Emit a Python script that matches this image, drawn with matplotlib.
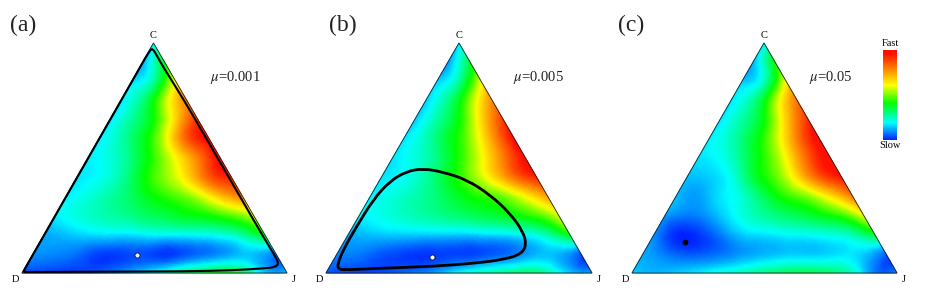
import numpy as np
import matplotlib
matplotlib.use('Agg')
import matplotlib.pyplot as plt
import matplotlib.tri as mtri
from matplotlib.path import Path
from matplotlib.patches import PathPatch, Polygon
from matplotlib.colors import LinearSegmentedColormap, Normalize
from matplotlib.cm import ScalarMappable

plt.rcParams['font.family'] = ['Liberation Serif', 'DejaVu Serif']
plt.rcParams['mathtext.fontset'] = 'stix'

# speed (0 slow, 1 fast), rows go from the D-J edge up to C,
# each row left to right
speed_a = [
    [.03, .03, .02, .04, .08, .13, .20, .30, .36, .40, .35, .15, .15],
    [.10, .09, .07, .03, .03, .04, .02, .05, .08, .12, .14, .08],
    [.12, .14, .16, .17, .17, .19, .19, .20, .22, .28, .40],
    [.18, .22, .25, .28, .32, .35, .39, .42, .48, .56],
    [.18, .22, .27, .33, .41, .47, .56, .70, .80],
    [.17, .20, .27, .40, .52, .66, .85, .93],
    [.18, .22, .31, .45, .62, .80, 1.0],
    [.18, .26, .38, .58, .85, .98],
    [.17, .28, .42, .68, .92],
    [.17, .30, .55, .80],
    [.17, .28, .62],
    [.12, .40],
    [.18],
]
speed_b = [
    [.05, .03, .03, .05, .08, .12, .20, .26, .30, .33, .28, .15, .12],
    [.09, .08, .05, .03, .02, .03, .03, .05, .08, .13, .13, .05],
    [.12, .14, .15, .15, .15, .15, .16, .17, .20, .27, .40],
    [.18, .21, .24, .27, .30, .33, .36, .40, .46, .58],
    [.18, .22, .26, .31, .38, .44, .50, .62, .75],
    [.17, .20, .27, .38, .50, .65, .82, .93],
    [.17, .22, .30, .43, .60, .80, .98],
    [.17, .25, .37, .52, .75, .98],
    [.15, .27, .41, .66, .90],
    [.15, .29, .52, .78],
    [.15, .28, .60],
    [.11, .37],
    [.17],
]
speed_c = [
    [.15, .13, .15, .18, .22, .26, .31, .34, .36, .33, .25, .08, .10],
    [.12, .08, .05, .06, .09, .12, .14, .15, .15, .17, .15, .06],
    [.10, .01, .02, .08, .15, .17, .19, .20, .22, .26, .36],
    [.11, .08, .11, .18, .25, .30, .34, .39, .45, .60],
    [.14, .11, .17, .23, .34, .44, .52, .65, .80],
    [.14, .15, .21, .36, .48, .66, .85, .95],
    [.17, .20, .30, .44, .62, .85, 1.0],
    [.18, .25, .37, .55, .80, 1.0],
    [.17, .27, .41, .68, .92],
    [.17, .28, .54, .82],
    [.15, .25, .62],
    [.13, .42],
    [.17],
]

# limit cycles as (C share, J share)
cycle_a_c = [.005, .004, .006, .007, .012, .020, .025, .043, .080, .150, .300, .457, .600,
             .750, .899, .950, .975, .970, .850, .700, .500, .300, .100, .020, .006]
cycle_a_j = [.006, .020, .293, .619, .793, .902, .944, .948, .912, .840, .690, .533, .390,
             .240, .085, .035, .010, .001, .002, .002, .002, .002, .002, .002, .002]
cycle_b_c = [.036, .019, .013, .020, .029, .043, .061, .084, .123, .181, .261, .341, .406,
             .439, .454, .442, .399, .319, .203, .101]
cycle_b_j = [.025, .037, .059, .180, .389, .544, .648, .693, .692, .650, .560, .445, .325,
             .221, .138, .082, .040, .018, .014, .014]

# fixed points as (C share, J share)
fixed_a = (.077, .397)
fixed_b = (.071, .364)
fixed_c = (.135, .134)

panel_labels = ['(a)', '(b)', '(c)']
mu_labels = ['0.001', '0.005', '0.05']
corner_labels = ['D', 'J', 'C']

# layout in pixels: x of D, x of J, x of C
corners = [(22, 287, 153.5), (326, 592, 459), (632, 897, 764)]
BASE_Y = 273
TOP_Y = 43

scale_stops = [0, .19, .41, .61, .96, 1]
scale_colors = ['#0020ff', '#00ffff', '#00ff00', '#ffff00', '#ff1000', '#ff1000']
rainbow = LinearSegmentedColormap.from_list('speed', list(zip(scale_stops, scale_colors)))


def to_xy(corner, c_share, j_share):
    xd, xj, xc = corner
    c_share = np.asarray(c_share)
    j_share = np.asarray(j_share)
    d_share = 1 - c_share - j_share
    x = d_share * xd + j_share * xj + c_share * xc
    y = BASE_Y + (TOP_Y - BASE_Y) * c_share
    return x, y


def draw_field(ax, corner, rows):
    n = len(rows) - 1
    c_vals, j_vals, z = [], [], []
    for i, row in enumerate(rows):
        for k, val in enumerate(row):
            c_vals.append(i / n)
            j_vals.append(k / n)
            z.append(val)
    x, y = to_xy(corner, c_vals, j_vals)
    tri = mtri.Triangulation(x, y)
    fine_tri, fine_z = mtri.UniformTriRefiner(tri).refine_field(np.array(z), subdiv=3)
    ax.tripcolor(fine_tri, fine_z, shading='gouraud', cmap=rainbow, vmin=0, vmax=1)
    ax.add_patch(Polygon([(corner[0], BASE_Y), (corner[1], BASE_Y), (corner[2], TOP_Y)],
                         closed=True, fill=False, ec='#222222', lw=0.6))


def draw_cycle(ax, corner, c_share, j_share, lw):
    x, y = to_xy(corner, c_share, j_share)
    pts = np.column_stack([x, y])
    mids = (pts + np.roll(pts, -1, axis=0)) / 2
    verts = [mids[-1]]
    codes = [Path.MOVETO]
    for p, m in zip(pts, mids):
        verts += [p, m]
        codes += [Path.CURVE3, Path.CURVE3]
    ax.add_patch(PathPatch(Path(verts, codes), fill=False, ec='black', lw=lw))


fig = plt.figure(figsize=(9.26, 2.96), dpi=100)
ax = fig.add_axes([0, 0, 1, 1])

draw_field(ax, corners[0], speed_a)
draw_field(ax, corners[1], speed_b)
draw_field(ax, corners[2], speed_c)

draw_cycle(ax, corners[0], cycle_a_c, cycle_a_j, 1.5)
draw_cycle(ax, corners[1], cycle_b_c, cycle_b_j, 2.0)

for corner, fixed, col in zip(corners, [fixed_a, fixed_b, fixed_c], ['white', 'white', 'black']):
    x, y = to_xy(corner, fixed[0], fixed[1])
    ax.plot(x, y, 'o', ms=3.6, mfc=col, mec='black', mew=0.5)

for corner, name, mu, lx, mx in zip(corners, panel_labels, mu_labels, [10, 329, 618], [210, 513, 809]):
    ax.text(lx, 25, name, fontsize=17, ha='left', va='center', color='#222222')
    ax.text(mx, 78, r'$\mu$=' + mu, fontsize=10.5, ha='left', va='center', color='#222222')
    ax.text(corner[0] - 7, 279, corner_labels[0], fontsize=7.5, ha='center', va='center')
    ax.text(corner[1] + 7, 279, corner_labels[1], fontsize=7.5, ha='center', va='center')
    ax.text(corner[2], 35, corner_labels[2], fontsize=7.5, ha='center', va='center')

ax.text(890, 43, 'Fast', fontsize=7.5, ha='center', va='center')
ax.text(890, 146, 'Slow', fontsize=7.5, ha='center', va='center')

ax.set_xlim(0, 926)
ax.set_ylim(296, 0)
ax.axis('off')

# colour scale
cax = fig.add_axes([883 / 926, 1 - 140 / 296, 14 / 926, 90 / 296])
cb = fig.colorbar(ScalarMappable(Normalize(0, 1), rainbow), cax=cax)
cb.set_ticks([])
cb.outline.set_visible(False)

fig.savefig('out.png', dpi=100)
